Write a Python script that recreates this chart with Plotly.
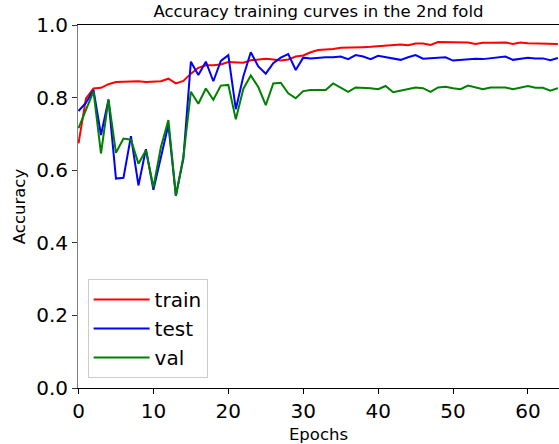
import plotly.graph_objects as go

# Accuracy per epoch for the second cross-validation fold
epochs = list(range(65))

train_acc = [
    0.674, 0.798, 0.825, 0.827, 0.837, 0.843, 0.844, 0.845, 0.845, 0.843,
    0.843, 0.845, 0.852, 0.839, 0.846, 0.866, 0.882, 0.889, 0.889, 0.891,
    0.898, 0.896, 0.896, 0.903, 0.906, 0.907, 0.905, 0.902, 0.905, 0.913,
    0.916, 0.925, 0.931, 0.932, 0.934, 0.937, 0.937, 0.937, 0.939, 0.940,
    0.942, 0.943, 0.944, 0.946, 0.944, 0.949, 0.949, 0.945, 0.953, 0.953,
    0.953, 0.952, 0.952, 0.948, 0.951, 0.951, 0.951, 0.952, 0.948, 0.952,
    0.950, 0.950, 0.950, 0.950, 0.948,
]

test_acc = [
    0.763, 0.786, 0.821, 0.697, 0.794, 0.577, 0.579, 0.694, 0.558, 0.658,
    0.546, 0.635, 0.725, 0.530, 0.632, 0.899, 0.862, 0.899, 0.845, 0.901,
    0.917, 0.768, 0.858, 0.925, 0.886, 0.866, 0.895, 0.910, 0.920, 0.876,
    0.910, 0.908, 0.910, 0.911, 0.911, 0.913, 0.906, 0.917, 0.913, 0.906,
    0.915, 0.911, 0.909, 0.904, 0.911, 0.917, 0.907, 0.908, 0.908, 0.911,
    0.902, 0.904, 0.906, 0.907, 0.906, 0.908, 0.909, 0.913, 0.904, 0.908,
    0.910, 0.908, 0.908, 0.903, 0.909,
]

val_acc = [
    0.716, 0.767, 0.817, 0.646, 0.795, 0.648, 0.687, 0.684, 0.618, 0.655,
    0.553, 0.664, 0.738, 0.529, 0.637, 0.816, 0.783, 0.825, 0.794, 0.833,
    0.835, 0.740, 0.824, 0.861, 0.829, 0.779, 0.839, 0.841, 0.812, 0.798,
    0.818, 0.821, 0.821, 0.821, 0.839, 0.828, 0.816, 0.828, 0.828, 0.826,
    0.823, 0.832, 0.815, 0.819, 0.823, 0.828, 0.826, 0.816, 0.828, 0.830,
    0.826, 0.823, 0.833, 0.828, 0.823, 0.828, 0.828, 0.828, 0.823, 0.827,
    0.832, 0.827, 0.827, 0.819, 0.826,
]

y_ticks = [0.0, 0.2, 0.4, 0.6, 0.8, 1.0]
x_ticks = [0, 10, 20, 30, 40, 50, 60]

FONT = "DejaVu Sans"

series = [
    ("train", train_acc, "#ff0000"),
    ("test", test_acc, "#0000ff"),
    ("val", val_acc, "#008000"),
]

fig = go.Figure()
for name, values, color in series:
    fig.add_trace(go.Scatter(
        x=epochs, y=values, name=name, mode="lines",
        line=dict(color=color, width=2),
    ))

fig.update_layout(
    width=559, height=444,
    margin=dict(l=78, r=0, t=25, b=56),
    paper_bgcolor="white", plot_bgcolor="white",
    font=dict(family=FONT, color="black"),
    title=dict(
        text="Accuracy training curves in the 2nd fold",
        font=dict(size=16.5, family=FONT, color="black"),
        x=0.5, xref="paper", xanchor="center",
        y=1 - 11 / 444, yref="container", yanchor="middle",
    ),
    showlegend=True,
    legend=dict(
        x=0.02, y=0.30, xanchor="left", yanchor="top",
        bgcolor="white", bordercolor="#cccccc", borderwidth=1,
        font=dict(size=20, family=FONT, color="black"),
        itemwidth=56,
    ),
)

fig.update_xaxes(
    range=[-0.07, 64.15],
    tickvals=x_ticks,
    showline=True, linecolor="black", linewidth=1, mirror=True,
    ticks="outside", ticklen=5, tickcolor="black",
    tickfont=dict(size=20, family=FONT, color="black"),
    showgrid=False, zeroline=False,
    title=dict(text="Epochs", font=dict(size=16.5, family=FONT, color="black"), standoff=6),
)

fig.update_yaxes(
    range=[0, 1],
    tickvals=y_ticks, tickformat=".1f",
    showline=True, linecolor="#7f7f7f", linewidth=1, mirror=False,
    ticks="outside", ticklen=5, tickcolor="#333333",
    tickfont=dict(size=20, family=FONT, color="black"),
    showgrid=False, zeroline=False,
    title=dict(text="Accuracy", font=dict(size=16.5, family=FONT, color="black"), standoff=6),
)

fig.write_html("out.html")
